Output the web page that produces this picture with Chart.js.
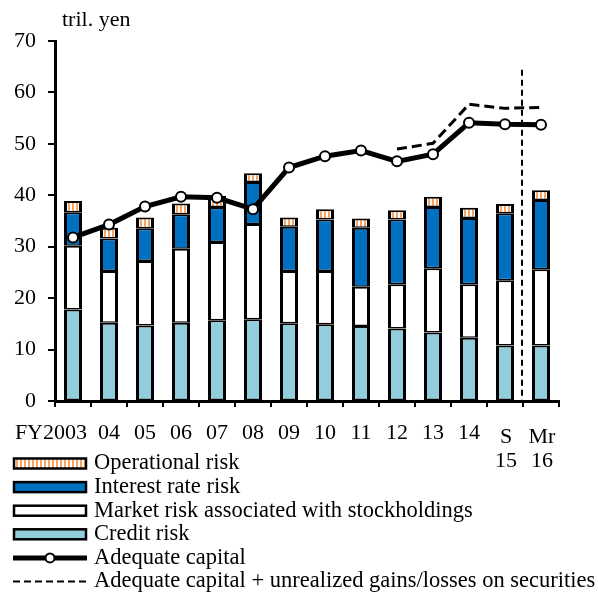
<!DOCTYPE html>
<html>
<head>
<meta charset="utf-8">
<script src="https://cdn.jsdelivr.net/npm/chart.js@4.4.1/dist/chart.umd.min.js"></script>
<style>
  html, body { margin: 0; padding: 0; background: #fff; }
  #box { width: 598px; height: 592px; }
</style>
</head>
<body>
<div id="box"><canvas id="myChart"></canvas></div>
<script>
// 데이터 (tril. yen)
var xLabels = ['FY2003', '04', '05', '06', '07', '08', '09', '10', '11', '12', '13', '14', ['S', '15'], ['Mr', '16']];
var creditRisk = [17.8, 15.2, 14.7, 15.2, 15.7, 15.9, 15.1, 14.9, 14.6, 14.1, 13.3, 12.3, 10.8, 10.8];
var marketRisk = [12.4, 10.1, 12.5, 14.4, 15.2, 18.5, 10.2, 10.4, 7.6, 8.6, 12.5, 10.4, 12.7, 14.8];
var interestRisk = [6.5, 6.3, 6.4, 6.7, 6.8, 8.2, 8.6, 10.0, 11.5, 12.6, 11.9, 12.9, 13.0, 13.5];
var operationalRisk = [2.2, 2.1, 2.1, 2.1, 2.2, 1.7, 1.8, 2.0, 1.8, 1.8, 2.0, 2.0, 1.8, 1.9];
var adequateCapital = [31.8, 34.3, 37.8, 39.7, 39.5, 37.3, 45.4, 47.6, 48.7, 46.6, 48.0, 54.1, 53.8, 53.7];
var capitalPlusGains = [null, null, null, null, null, null, null, null, null, 49.0, 50.1, 57.7, 56.9, 57.1];
var yTicks = [0, 10, 20, 30, 40, 50, 60, 70];
var dividerTop = 64.4; // 세로 점선 윗끝 (y값)

var serif = '"Liberation Serif", "Times New Roman", serif';
var fontSize = 22;

// 주황 세로줄 패턴
function stripePattern() {
    var c = document.createElement('canvas');
    c.width = 4; c.height = 10;
    var g = c.getContext('2d');
    g.fillStyle = '#ffffff';
    g.fillRect(0, 0, 4, 10);
    g.fillStyle = '#F5A463';
    g.fillRect(0, 0, 2, 10);
    return g.createPattern(c, 'repeat');
}

var ctx = document.getElementById('myChart').getContext('2d');
var opFill = stripePattern();

// 범례, x축 라벨, 단위, 세로 점선
var extras = {
    id: 'extras',
    afterDraw: function (chart) {
        var c = chart.ctx;
        var xs = chart.scales.x;
        var ys = chart.scales.y;
        c.save();

        // 단위
        c.fillStyle = '#000';
        c.font = fontSize + 'px ' + serif;
        c.textAlign = 'left';
        c.textBaseline = 'middle';
        c.fillText('tril. yen', 62, 20);

        // 세로 점선 (S15 / Mr16 사이)
        var xd = (xs.getPixelForValue(12) + xs.getPixelForValue(13)) / 2 - 1;
        c.strokeStyle = '#000';
        c.lineWidth = 2;
        c.setLineDash([6, 4]);
        c.beginPath();
        c.moveTo(xd, ys.getPixelForValue(dividerTop));
        c.lineTo(xd, ys.bottom);
        c.stroke();
        c.setLineDash([]);

        // x축 라벨
        for (var i = 0; i < xLabels.length; i++) {
            var x = xs.getPixelForValue(i);
            var lab = xLabels[i];
            if (Array.isArray(lab)) {
                c.textAlign = 'center';
                c.fillText(lab[0], x + 1, ys.bottom + 36);
                c.fillText(lab[1], x + 1, ys.bottom + 60);
            } else if (i === 0) {
                c.textAlign = 'right';
                c.fillText(lab, x + 14, ys.bottom + 32);
            } else {
                c.textAlign = 'center';
                c.fillText(lab, x, ys.bottom + 32);
            }
        }

        // 범례
        var items = [
            { text: 'Operational risk', fill: opFill, type: 'box' },
            { text: 'Interest rate risk', fill: '#0070C0', type: 'box' },
            { text: 'Market risk associated with stockholdings', fill: '#ffffff', type: 'box' },
            { text: 'Credit risk', fill: '#92CDDC', type: 'box' },
            { text: 'Adequate capital', type: 'line' },
            { text: 'Adequate capital + unrealized gains/losses on securities', type: 'dash' }
        ];
        c.font = '22.5px ' + serif;
        var y0 = 463.5;
        for (var k = 0; k < items.length; k++) {
            var it = items[k];
            var yy = y0 + k * 23.6;
            if (it.type === 'box') {
                c.fillStyle = it.fill;
                c.fillRect(14, yy - 5, 72, 10);
                c.strokeStyle = '#000';
                c.lineWidth = 2.5;
                c.strokeRect(14, yy - 5, 72, 10);
            } else if (it.type === 'line') {
                c.strokeStyle = '#000';
                c.lineWidth = 5;
                c.beginPath();
                c.moveTo(13, yy); c.lineTo(87, yy);
                c.stroke();
                c.fillStyle = '#fff';
                c.lineWidth = 2;
                c.beginPath();
                c.arc(50, yy, 4.5, 0, Math.PI * 2);
                c.fill(); c.stroke();
            } else {
                c.strokeStyle = '#000';
                c.lineWidth = 2;
                c.setLineDash([7, 4]);
                c.beginPath();
                c.moveTo(13, yy); c.lineTo(87, yy);
                c.stroke();
                c.setLineDash([]);
            }
            c.fillStyle = '#000';
            c.textAlign = 'left';
            c.fillText(it.text, 94, yy);
        }
        c.restore();
    }
};

var barStyle = {
    type: 'bar',
    borderColor: '#000',
    borderWidth: { top: 2, bottom: 1.5, left: 3, right: 3 },
    borderSkipped: false,
    barPercentage: 0.5,
    categoryPercentage: 1,
    stack: 'risk',
    order: 2
};

var myChart = new Chart(ctx, {
    data: {
        labels: xLabels,
        datasets: [
            Object.assign({ label: 'Credit risk', data: creditRisk, backgroundColor: '#92CDDC' }, barStyle),
            Object.assign({ label: 'Market risk associated with stockholdings', data: marketRisk, backgroundColor: '#ffffff' }, barStyle),
            Object.assign({ label: 'Interest rate risk', data: interestRisk, backgroundColor: '#0070C0' }, barStyle),
            Object.assign({ label: 'Operational risk', data: operationalRisk, backgroundColor: opFill }, barStyle),
            {
                type: 'line',
                label: 'Adequate capital',
                data: adequateCapital,
                stack: 'cap',
                borderColor: '#000',
                borderWidth: 5,
                pointRadius: 5,
                pointBorderWidth: 2,
                pointBackgroundColor: '#fff',
                pointBorderColor: '#000',
                tension: 0,
                order: 0
            },
            {
                type: 'line',
                label: 'Adequate capital + unrealized gains/losses on securities',
                data: capitalPlusGains,
                stack: 'capPlus',
                borderColor: '#000',
                borderWidth: 3,
                borderDash: [10, 5],
                pointRadius: 0,
                tension: 0,
                order: 1
            }
        ]
    },
    options: {
        responsive: true,
        maintainAspectRatio: false,
        animation: false,
        layout: { padding: { top: 41, right: 39, left: 0, bottom: 0 } },
        plugins: {
            legend: { display: false },
            tooltip: { enabled: false }
        },
        scales: {
            x: {
                offset: true,
                grid: { offset: true, drawOnChartArea: false, drawTicks: true, tickLength: 6, color: '#000', lineWidth: 2 },
                border: { display: true, color: '#000', width: 3 },
                ticks: { display: false },
                afterFit: function (s) { s.height = 191; }
            },
            y: {
                stacked: true,
                min: 0,
                max: 70,
                afterBuildTicks: function (s) { s.ticks = yTicks.map(function (v) { return { value: v }; }); },
                grid: { drawOnChartArea: false, drawTicks: true, tickLength: 7, color: '#000', lineWidth: 2 },
                border: { display: true, color: '#000', width: 3 },
                ticks: { color: '#000', padding: 12, font: { family: serif, size: fontSize } },
                afterFit: function (s) { s.width = 55; }
            }
        }
    },
    plugins: [extras]
});
</script>
</body>
</html>
